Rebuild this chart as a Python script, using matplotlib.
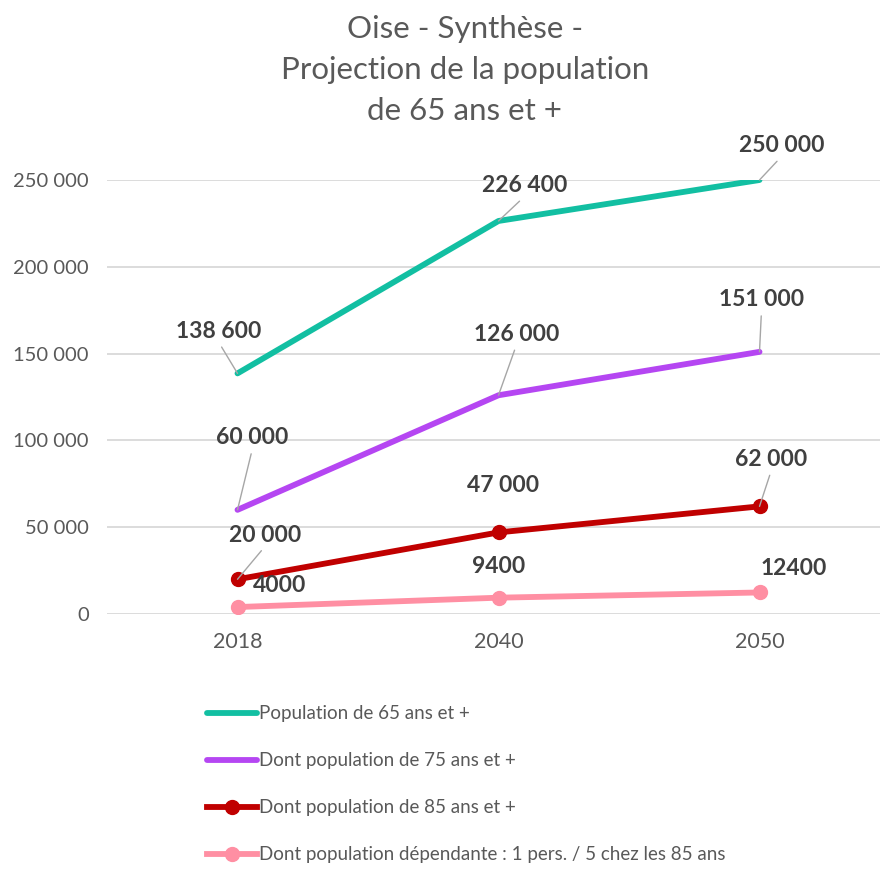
import numpy as np
import matplotlib.pyplot as plt

plt.rcParams['font.family'] = ['Lato', 'DejaVu Sans']

years = ['2018', '2040', '2050']
pop65 = [138600, 226400, 250000]
pop75 = [60000, 126000, 151000]
pop85 = [20000, 47000, 62000]
dep = [4000, 9400, 12400]

labels65 = ['138 600', '226 400', '250 000']
labels75 = ['60 000', '126 000', '151 000']
labels85 = ['20 000', '47 000', '62 000']
labels_dep = ['4000', '9400', '12400']

names = ['Population de 65 ans et +',
         'Dont population de 75 ans et +',
         'Dont population de 85 ans et +',
         'Dont population dépendante : 1 pers. / 5 chez les 85 ans']

yticks = [0, 50000, 100000, 150000, 200000, 250000]
ytick_labels = ['0', '50 000', '100 000', '150 000', '200 000', '250 000']

grey = '#595959'
fig = plt.figure(figsize=(8.8, 8.69), dpi=100)
ax = fig.add_axes([107/880, 255/869, 773/880, 434/869])

x = np.arange(len(years))
ax.plot(x, pop65, color='#12BFA2', lw=4.2, solid_capstyle='round', label=names[0])
ax.plot(x, pop75, color='#B546F2', lw=4.2, solid_capstyle='round', label=names[1])
ax.plot(x, pop85, color='#C00000', lw=4.2, marker='o', ms=10, label=names[2])
ax.plot(x, dep, color='#FF8FA3', lw=4.2, marker='o', ms=10, label=names[3])

ax.set_xlim(-0.5, -0.5 + 773/261)
ax.set_ylim(0, 250000)
ax.set_yticks(yticks)
ax.set_yticklabels(ytick_labels)
ax.set_xticks(x)
ax.set_xticklabels(years)
ax.tick_params(axis='y', length=0, labelsize=14.5, labelcolor=grey, pad=13)
ax.tick_params(axis='x', length=0, labelsize=15.5, labelcolor=grey, pad=13)
ax.grid(axis='y', color='#D9D9D9', lw=1.3)
ax.set_axisbelow(True)
for s in ax.spines.values():
    s.set_visible(False)

# offsets in pixels (label centre relative to point), leader line or not
offsets = {
    0: [(-19, 42, True), (26, 35, True), (22, 34, True)],
    1: [(15, 72, True), (18, 61, True), (2, 52, True)],
    2: [(28, 44, True), (5, 47, False), (12, 47, True)],
    3: [(42, 22, False), (0, 31, False), (34, 24, False)],
}
series = [(pop65, labels65), (pop75, labels75), (pop85, labels85), (dep, labels_dep)]
for i, (vals, labs) in enumerate(series):
    for j in range(len(vals)):
        dx, dy, lead = offsets[i][j]
        arrow = None
        if lead:
            arrow = dict(arrowstyle='-', color='#A6A6A6', lw=1, shrinkA=2, shrinkB=0,
                         relpos=(0.5, 0))
        ax.annotate(labs[j], (x[j], vals[j]), xytext=(dx, dy), textcoords='offset pixels',
                    ha='center', va='center', fontsize=16.5, fontweight='bold',
                    color='#404040', annotation_clip=False, arrowprops=arrow)

fig.text(0.528, 1 - 70/869, 'Oise - Synthèse -\nProjection de la population\nde 65 ans et +',
         ha='center', va='center', fontsize=22.5, color=grey, linespacing=1.55)

fig.legend(loc='upper left', bbox_to_anchor=(198/880, 1 - 696/869), frameon=False,
           fontsize=13.5, labelcolor=grey, handlelength=2.65, handletextpad=0.12,
           labelspacing=1.6, borderpad=0)

fig.savefig('out.png', dpi=100)
